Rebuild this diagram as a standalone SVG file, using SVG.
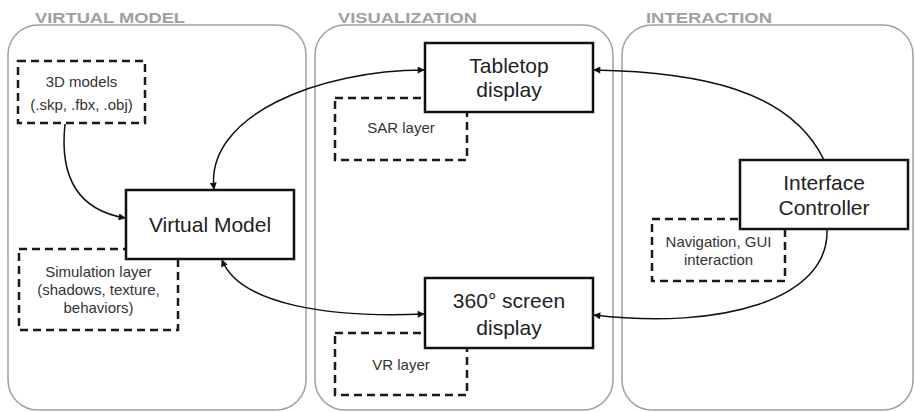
<svg xmlns="http://www.w3.org/2000/svg" width="915" height="412" viewBox="0 0 915 412">
<style>
.panel{fill:#fff;stroke:#a0a0a0;stroke-width:1.5}
.plabel{font-family:"Liberation Sans",Arial,sans-serif;font-weight:bold;font-size:15px;fill:#a0a0a0}
.dash{fill:#fff;stroke:#1a1a1a;stroke-width:2.5;stroke-dasharray:8 5}
.box{fill:#fff;stroke:#111;stroke-width:2.5}
.big{font-family:"Liberation Sans",Arial,sans-serif;font-size:21px;fill:#222;text-anchor:middle}
.small{font-family:"Liberation Sans",Arial,sans-serif;font-size:15px;fill:#333;text-anchor:middle}
.conn{fill:none;stroke:#111;stroke-width:1.5}
</style>
<defs>
<marker id="ah" viewBox="0 0 10 10" refX="9" refY="5" markerWidth="9" markerHeight="7" markerUnits="userSpaceOnUse" orient="auto-start-reverse">
<path d="M0,0 L10,5 L0,10 z" fill="#111"/>
</marker>
</defs>
<rect width="915" height="412" fill="#fff"/>
<g id="panel-virtual-model">
<rect class="panel" x="8" y="25" width="298" height="385" rx="30" ry="30"/>
<text class="plabel" x="35" y="23" textLength="150" lengthAdjust="spacingAndGlyphs">VIRTUAL MODEL</text>
</g>
<g id="panel-visualization">
<rect class="panel" x="315" y="25" width="298" height="385" rx="30" ry="30"/>
<text class="plabel" x="338" y="23" textLength="139" lengthAdjust="spacingAndGlyphs">VISUALIZATION</text>
</g>
<g id="panel-interaction">
<rect class="panel" x="622" y="25" width="291" height="385" rx="30" ry="30"/>
<text class="plabel" x="646" y="23" textLength="126" lengthAdjust="spacingAndGlyphs">INTERACTION</text>
</g>
<g id="node-3d-models">
<rect class="dash" x="18" y="61" width="127" height="62"/>
<text class="small" x="81.5" y="87">3D models</text>
<text class="small" x="81.5" y="110">(.skp, .fbx, .obj)</text>
</g>
<g id="node-simulation-layer">
<rect class="dash" x="19" y="249" width="159" height="81"/>
<text class="small" x="98.5" y="277">Simulation layer</text>
<text class="small" x="98.5" y="295">(shadows, texture,</text>
<text class="small" x="98.5" y="313">behaviors)</text>
</g>
<g id="node-sar-layer">
<rect class="dash" x="335" y="98" width="132" height="62"/>
<text class="small" x="401" y="133">SAR layer</text>
</g>
<g id="node-vr-layer">
<rect class="dash" x="335" y="333" width="132" height="62"/>
<text class="small" x="401" y="370">VR layer</text>
</g>
<g id="node-navigation">
<rect class="dash" x="652" y="219" width="133" height="62"/>
<text class="small" x="718.5" y="247">Navigation, GUI</text>
<text class="small" x="718.5" y="265">interaction</text>
</g>
<g id="node-virtual-model">
<rect class="box" x="126" y="190" width="168" height="69"/>
<text class="big" x="210" y="232">Virtual Model</text>
</g>
<g id="node-tabletop">
<rect class="box" x="425" y="43" width="168" height="69"/>
<text class="big" x="509" y="73">Tabletop</text>
<text class="big" x="509" y="97">display</text>
</g>
<g id="node-360">
<rect class="box" x="425" y="278" width="168" height="70"/>
<text class="big" x="509" y="308">360° screen</text>
<text class="big" x="509" y="335">display</text>
</g>
<g id="node-interface">
<rect class="box" x="740" y="160" width="168" height="69"/>
<text class="big" x="824" y="190">Interface</text>
<text class="big" x="824" y="215">Controller</text>
</g>
<g id="connectors">
<path class="conn" d="M65,124 C58,190 90,212 125,218" marker-end="url(#ah)"/>
<path class="conn" d="M214,189 C205,115 320,70 424,70" marker-start="url(#ah)" marker-end="url(#ah)"/>
<path class="conn" d="M222,260 C240,305 330,318 424,314" marker-start="url(#ah)" marker-end="url(#ah)"/>
<path class="conn" d="M824,160 C790,90 700,72 594,70" marker-end="url(#ah)"/>
<path class="conn" d="M827,229 C830,300 720,330 594,315" marker-end="url(#ah)"/>
</g>
</svg>
